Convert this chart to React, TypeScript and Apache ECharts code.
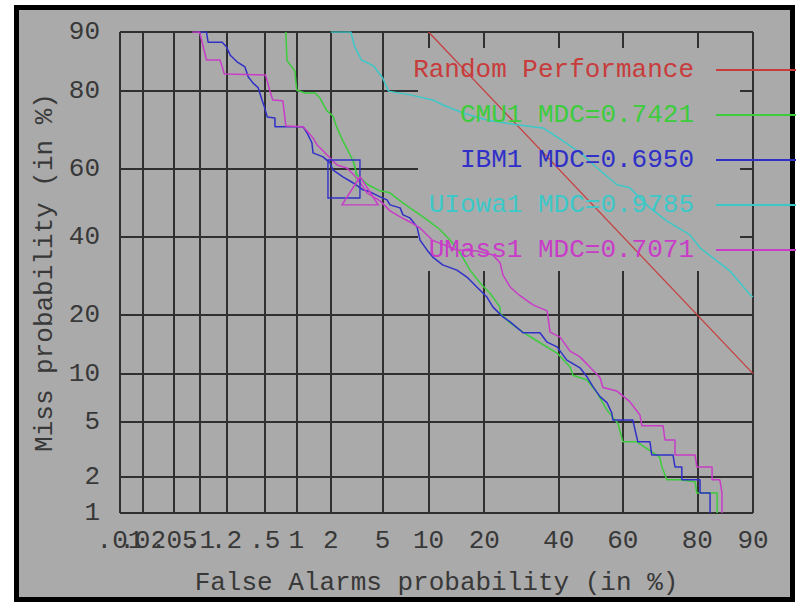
import React, { useEffect, useRef } from "react";
import * as echarts from "echarts";

// ---------- data (percent values) ----------
const xTickPct = [0.01, 0.02, 0.05, 0.1, 0.2, 0.5, 1, 2, 5, 10, 20, 40, 60, 80, 90];
const xTickLabels = [".01", ".02", ".05", ".1", ".2", ".5", "1", "2", "5", "10", "20", "40", "60", "80", "90"];
const yTickPct = [1, 2, 5, 10, 20, 40, 60, 80, 90];
const yTickLabels = ["1", "2", "5", "10", "20", "40", "60", "80", "90"];

const seriesNames = [
  "Random Performance",
  "CMU1 MDC=0.7421",
  "IBM1 MDC=0.6950",
  "UIowa1 MDC=0.9785",
  "UMass1 MDC=0.7071",
];
const seriesColors = ["#c83c3c", "#3ccc3c", "#3030c8", "#3cc8c8", "#c83cc8"];

// [false alarm %, miss %]
const randomPoints: [number, number][] = [[10, 90], [90, 10]];

const cmu1Points: [number, number][] = [
  [0.8, 90], [0.82, 85.7], [0.97, 83.9], [1.01, 80.1], [1.2, 79.5], [1.47, 79.5], [1.62, 78.4],
  [1.86, 75.5], [2.08, 74.3], [2.25, 71.3], [2.51, 67.9], [2.86, 64.1], [3.01, 62.4], [3.24, 58.3],
  [3.92, 55.4], [4.8, 53.6], [5.64, 53], [6.6, 50.6], [7.66, 48.5], [8.87, 46.4], [10.2, 44.3],
  [11.7, 42], [13.3, 39], [15.1, 35.4], [17, 30.7], [19.1, 27.4], [21.3, 24.9], [23.7, 21.7],
  [23.7, 20.4], [26.2, 18.4], [29.6, 16.6], [34.4, 14.7], [39.5, 13], [43.5, 10.9], [44.4, 9.8],
  [48.8, 9.2], [52, 7.7], [55.1, 6.0], [56.9, 5.4], [58.5, 4.9], [60, 3.65], [64.2, 3.65],
  [70.7, 2.83], [71.3, 2.38], [72.6, 1.89], [75.9, 1.89], [79.5, 1.82], [79.9, 1.48], [84.1, 1.48],
  [84.1, 1],
];

const ibm1Points: [number, number][] = [
  [0.093, 90], [0.12, 90], [0.125, 88.6], [0.18, 88.6], [0.2, 87.9], [0.22, 86.6], [0.26, 85.5],
  [0.315, 84.6], [0.34, 82.8], [0.38, 81.6], [0.43, 80.6], [0.47, 78], [0.5, 76.2], [0.53, 74],
  [0.63, 73.8], [0.63, 71.6], [1.15, 71.6], [1.25, 70], [1.38, 67.4], [1.41, 64.6], [1.72, 63.5],
  [1.97, 61.8], [2.08, 59.8], [2.51, 57.7], [3.01, 56], [3.59, 53.9], [4.06, 53.3], [4.8, 51.8],
  [5.37, 50.9], [5.64, 49.4], [6.6, 48.5], [6.9, 46.4], [7.66, 45.5], [8.49, 42.9], [8.87, 39],
  [9.78, 36.2], [10.6, 34.2], [12.1, 32.1], [14.5, 30.7], [16.4, 28.9], [18.4, 26.4], [20.6, 24],
  [22, 21.7], [24.4, 19.6], [26.2, 18.6], [28.8, 17], [29.6, 16.5], [34.4, 16.5], [36.5, 14.8],
  [39.5, 14], [42.5, 11.9], [46.6, 10.8], [48.8, 9.6], [50.7, 8.4], [52.9, 7.3], [55.1, 6.7],
  [56.6, 5.75], [56.9, 5.17], [63, 5.17], [64.5, 3.65], [68, 3.65], [68.5, 2.93], [74.2, 2.93],
  [74.7, 2.38], [76.4, 2.38], [76.4, 1.89], [80.6, 1.89], [80.6, 1.48], [82.7, 1.48], [82.7, 1],
];

const uiowa1Points: [number, number][] = [
  [2.0, 90], [2.9, 90], [3.1, 88], [3.5, 85.8], [4.3, 84.8], [5.0, 82.6], [5.5, 79.9], [7.7, 79.1],
  [10.6, 78], [12.1, 76.9], [15.6, 75], [20.6, 73.3], [28, 72.1], [35.3, 71.3], [41.3, 67.9],
  [47.5, 64.1], [52, 60.3], [58.2, 55.4], [62.1, 54.5], [68, 48.5], [72.6, 44.6], [78.3, 40.5],
  [80.6, 36.8], [84.1, 33.1], [86.4, 30.5], [89.6, 24.5], [90, 24],
];

const umass1Points: [number, number][] = [
  [0.082, 90], [0.1, 90], [0.12, 85.8], [0.17, 85.8], [0.19, 83.3], [0.51, 83.1], [0.56, 80.1],
  [0.6, 78], [0.75, 77.8], [0.8, 71.8], [1.15, 71.6], [1.25, 70.5], [1.41, 68.7], [1.53, 66.8],
  [1.72, 65.2], [1.97, 63.2], [2.25, 61.2], [2.7, 60.3], [3.24, 57.4], [3.85, 53], [4.8, 50.6],
  [5.64, 47.6], [6.6, 45.8], [7.66, 44.3], [8.87, 42.5], [10.5, 39], [14.5, 36.2], [18.4, 35.9],
  [22, 34.8], [23.7, 32.6], [24.4, 29.4], [26.2, 26.4], [28.8, 24.3], [32.4, 22.2], [36.5, 20.9],
  [37.4, 16.6], [40.4, 15.7], [43.5, 13.3], [46.6, 12.4], [49.7, 10.9], [52.9, 9.5], [53.8, 8.3],
  [58.2, 7.9], [62.1, 6.8], [65.1, 5.58], [65.7, 4.72], [71.6, 4.72], [72.1, 3.77], [74.7, 3.77],
  [74.7, 2.93], [79.5, 2.93], [79.9, 2.38], [83.1, 2.38], [83.1, 1.89], [84.6, 1.89], [85, 1.48],
  [85, 1],
];

// minimum-cost operating points [false alarm %, miss %]
const cmu1Mdc: [number, number] = [3.15, 58.6];
const ibm1Mdc: [number, number] = [2.56, 57.1];
const umass1Mdc: [number, number] = [3.42, 53.6];

// ---------- normal deviate scale ----------
function probit(p: number): number {
  const a = [-3.969683028665376e1, 2.209460984245205e2, -2.759285104469687e2, 1.38357751867269e2, -3.066479806614716e1, 2.506628277459239];
  const b = [-5.447609879822406e1, 1.615858368580409e2, -1.556989798598866e2, 6.680131188771972e1, -1.328068155288572e1];
  const c = [-7.784894002430293e-3, -3.223964580411365e-1, -2.400758277161838, -2.549732539343734, 4.374664141464968, 2.938163982698783];
  const d = [7.784695709041462e-3, 3.224671290700398e-1, 2.445134137142996, 3.754408661907416];
  const plow = 0.02425;
  const phigh = 1 - plow;
  if (p < plow) {
    const q = Math.sqrt(-2 * Math.log(p));
    return (((((c[0] * q + c[1]) * q + c[2]) * q + c[3]) * q + c[4]) * q + c[5]) / ((((d[0] * q + d[1]) * q + d[2]) * q + d[3]) * q + 1);
  }
  if (p <= phigh) {
    const q = p - 0.5;
    const r = q * q;
    return ((((((a[0] * r + a[1]) * r + a[2]) * r + a[3]) * r + a[4]) * r + a[5]) * q) / (((((b[0] * r + b[1]) * r + b[2]) * r + b[3]) * r + b[4]) * r + 1);
  }
  const q = Math.sqrt(-2 * Math.log(1 - p));
  return -(((((c[0] * q + c[1]) * q + c[2]) * q + c[3]) * q + c[4]) * q + c[5]) / ((((d[0] * q + d[1]) * q + d[2]) * q + d[3]) * q + 1);
}
const dev = (pct: number) => probit(pct / 100);
const toDev = (pts: [number, number][]) => pts.map(([fa, miss]) => [dev(fa), dev(miss)]);

const FONT = '"Liberation Mono", "DejaVu Sans Mono", monospace';
const TEXT = "#383838";
const GRID = "#303030";
const BG = "#aaaaaa";

const xVals = xTickPct.map(dev);
const yVals = yTickPct.map(dev);
const labelFor = (vals: number[], labels: string[]) => (v: number) => {
  let best = 0;
  for (let i = 1; i < vals.length; i++) if (Math.abs(vals[i] - v) < Math.abs(vals[best] - v)) best = i;
  return labels[best];
};
const xLabel = labelFor(xVals, xTickLabels);
const yLabel = labelFor(yVals, yTickLabels);

function makeXAxis(idx: number[], withName: boolean) {
  const vals = idx.map((i) => xVals[i]);
  return {
    type: "value",
    position: "bottom",
    gridIndex: 0,
    min: xVals[0],
    max: xVals[xVals.length - 1],
    name: withName ? "False Alarms probability (in %)" : "",
    nameLocation: "middle",
    nameGap: 57,
    nameTextStyle: { fontFamily: FONT, fontSize: 26, color: TEXT },
    axisLine: { show: false },
    axisTick: { show: false, customValues: vals },
    axisLabel: {
      customValues: vals,
      formatter: (v: number) => xLabel(v),
      fontFamily: FONT,
      fontSize: 26,
      color: TEXT,
      margin: 15,
      showMinLabel: true,
      showMaxLabel: true,
    },
    splitLine: { show: true, lineStyle: { color: GRID, width: 2 } },
  };
}

export default function App() {
  const ref = useRef<HTMLDivElement>(null);
  useEffect(() => {
    if (!ref.current) return;
    const chart = echarts.init(ref.current, null, { renderer: "svg" });
    const even = xTickPct.map((_, i) => i).filter((i) => i % 2 === 0);
    const odd = xTickPct.map((_, i) => i).filter((i) => i % 2 === 1);
    const lineSeries = (name: string, color: string, pts: [number, number][], extra: any = {}) => ({
      name,
      type: "line",
      data: toDev(pts),
      showSymbol: false,
      symbol: "none",
      lineStyle: { color, width: 1.5 },
      itemStyle: { color },
      z: 3,
      ...extra,
    });
    const mark = (color: string, symbol: string, size: number[], pt: [number, number]) => ({
      markPoint: {
        silent: true,
        symbol,
        symbolSize: size,
        label: { show: false },
        itemStyle: { color: "rgba(0,0,0,0)", borderColor: color, borderWidth: 1.5 },
        data: [{ coord: [dev(pt[0]), dev(pt[1])] }],
      },
    });
    chart.setOption({
      animation: false,
      backgroundColor: "transparent",
      grid: { left: 120, right: 47, top: 32, bottom: 89, containLabel: false },
      xAxis: [makeXAxis(even, true), makeXAxis(odd, false)],
      yAxis: {
        type: "value",
        min: yVals[0],
        max: yVals[yVals.length - 1],
        name: "Miss probability (in %)",
        nameLocation: "middle",
        nameGap: 62,
        nameTextStyle: { fontFamily: FONT, fontSize: 26, color: TEXT },
        axisLine: { show: false },
        axisTick: { show: false, customValues: yVals },
        axisLabel: {
          customValues: yVals,
          formatter: (v: number) => yLabel(v),
          fontFamily: FONT,
          fontSize: 26,
          color: TEXT,
          margin: 20,
          showMinLabel: true,
          showMaxLabel: true,
        },
        splitLine: { show: true, lineStyle: { color: GRID, width: 2 } },
      },
      legend: {
        orient: "vertical",
        right: 3,
        top: 57,
        align: "right",
        padding: 0,
        itemWidth: 80,
        itemHeight: 26,
        itemGap: 19,
        selectedMode: false,
        itemStyle: { opacity: 0 },
        textStyle: { fontFamily: FONT, fontSize: 26, padding: [0, 17, 0, 0] },
        data: seriesNames.map((n, i) => ({ name: n, textStyle: { color: seriesColors[i] } })),
      },
      graphic: [
        {
          type: "rect",
          z: 1,
          silent: true,
          shape: { x: 418, y: 48, width: 322, height: 223 },
          style: { fill: BG },
        },
      ],
      series: [
        lineSeries(seriesNames[0], seriesColors[0], randomPoints, { lineStyle: { color: seriesColors[0], width: 1.2 } }),
        lineSeries(seriesNames[1], seriesColors[1], cmu1Points, mark(seriesColors[1], "path://M0,0L1,34", [1.5, 34], cmu1Mdc)),
        lineSeries(seriesNames[2], seriesColors[2], ibm1Points, mark(seriesColors[2], "rect", [32, 38], ibm1Mdc)),
        lineSeries(seriesNames[3], seriesColors[3], uiowa1Points),
        lineSeries(seriesNames[4], seriesColors[4], umass1Points, mark(seriesColors[4], "triangle", [36, 28], umass1Mdc)),
      ],
    });
    return () => chart.dispose();
  }, []);
  return (
    <div style={{ position: "absolute", left: 0, top: 0, width: 800, height: 602, overflow: "hidden", background: "#ffffff" }}>
      <div
        style={{
          position: "absolute",
          left: 14,
          top: 5,
          width: 781,
          height: 597,
          boxSizing: "border-box",
          border: "5px solid #000",
          background: BG,
        }}
      />
      <div ref={ref} style={{ position: "absolute", left: 0, top: 0, width: 800, height: 602 }} />
    </div>
  );
}
